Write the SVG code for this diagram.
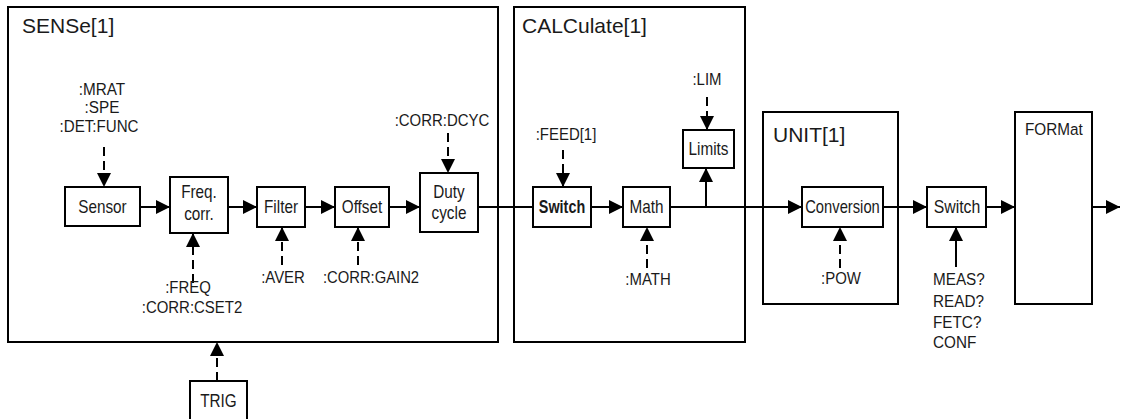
<svg xmlns="http://www.w3.org/2000/svg" width="1121" height="419" viewBox="0 0 1121 419">
<style>
.box{fill:none;stroke:#000;stroke-width:2}
.nb{fill:#fff;stroke:#000;stroke-width:2}
.t{font-family:"Liberation Sans",Arial,sans-serif;fill:#1a1a1a}
.title{font-size:21px}
.node{font-size:18px;text-anchor:middle}
.cmd{font-size:17px;text-anchor:middle}
.lft{font-size:17px}
.ln{fill:none;stroke:#000;stroke-width:2}
.dash{fill:none;stroke:#000;stroke-width:2;stroke-dasharray:9 5}
</style>
<defs>
<marker id="ah" viewBox="0 0 14 14" refX="14" refY="7" markerWidth="14" markerHeight="14" markerUnits="userSpaceOnUse" orient="auto">
<path d="M0,0 L14,7 L0,14 z" fill="#000"/>
</marker>
</defs>
<g id="sense">
<rect class="box" x="8" y="7" width="490" height="335"/>
<text class="t title" x="22" y="33">SENSe[1]</text>
</g>
<g id="calculate">
<rect class="box" x="514" y="7" width="231" height="335"/>
<text class="t title" x="522" y="33">CALCulate[1]</text>
</g>
<g id="unit">
<rect class="box" x="763" y="112" width="135" height="192"/>
<text class="t title" x="773" y="142">UNIT[1]</text>
</g>
<g id="format">
<rect class="box" x="1015" y="112" width="77" height="192"/>
<text class="t lft" transform="translate(1025,135) scale(0.9,1)">FORMat</text>
</g>
<g id="connectors">
<line class="ln" x1="140" y1="207" x2="170" y2="207" marker-end="url(#ah)"/>
<line class="ln" x1="228" y1="207" x2="257" y2="207" marker-end="url(#ah)"/>
<line class="ln" x1="305" y1="207" x2="335" y2="207" marker-end="url(#ah)"/>
<line class="ln" x1="389" y1="207" x2="420" y2="207" marker-end="url(#ah)"/>
<line class="ln" x1="478" y1="207" x2="533" y2="207"/>
<line class="ln" x1="591" y1="207" x2="623" y2="207" marker-end="url(#ah)"/>
<line class="ln" x1="670" y1="207" x2="802" y2="207" marker-end="url(#ah)"/>
<line class="ln" x1="706" y1="208" x2="706" y2="168" marker-end="url(#ah)"/>
<line class="ln" x1="883" y1="207" x2="927" y2="207" marker-end="url(#ah)"/>
<line class="ln" x1="986" y1="207" x2="1015" y2="207" marker-end="url(#ah)"/>
<line class="ln" x1="1092" y1="207" x2="1120" y2="207" marker-end="url(#ah)"/>
<line class="dash" x1="104" y1="147" x2="104" y2="187" marker-end="url(#ah)"/>
<line class="dash" x1="193" y1="283" x2="193" y2="233" marker-end="url(#ah)"/>
<line class="dash" x1="282" y1="265" x2="282" y2="227" marker-end="url(#ah)"/>
<line class="dash" x1="358" y1="265" x2="358" y2="227" marker-end="url(#ah)"/>
<line class="dash" x1="448" y1="133" x2="448" y2="173" marker-end="url(#ah)"/>
<line class="dash" x1="217" y1="381" x2="217" y2="342" marker-end="url(#ah)"/>
<line class="dash" x1="563" y1="150" x2="563" y2="187" marker-end="url(#ah)"/>
<line class="dash" x1="707" y1="97" x2="707" y2="130" marker-end="url(#ah)"/>
<line class="dash" x1="647" y1="268" x2="647" y2="227" marker-end="url(#ah)"/>
<line class="dash" x1="840" y1="268" x2="840" y2="227" marker-end="url(#ah)"/>
<line class="ln" x1="956" y1="267" x2="956" y2="227" marker-end="url(#ah)"/>
</g>
<g id="sensor">
<rect class="nb" x="65" y="187" width="75" height="39"/>
<text class="t node" transform="translate(102.5,213) scale(0.85,1)">Sensor</text>
</g>
<g id="freqcorr">
<rect class="nb" x="170" y="177" width="58" height="56"/>
<text class="t node" transform="translate(199,198) scale(0.85,1)">Freq.</text>
<text class="t node" transform="translate(199,220) scale(0.85,1)">corr.</text>
</g>
<g id="filter">
<rect class="nb" x="257" y="187" width="48" height="40"/>
<text class="t node" transform="translate(281,213) scale(0.85,1)">Filter</text>
</g>
<g id="offset">
<rect class="nb" x="335" y="187" width="54" height="40"/>
<text class="t node" transform="translate(362,213) scale(0.85,1)">Offset</text>
</g>
<g id="dutycycle">
<rect class="nb" x="420" y="173" width="58" height="59"/>
<text class="t node" transform="translate(449,198) scale(0.85,1)">Duty</text>
<text class="t node" transform="translate(449,219) scale(0.85,1)">cycle</text>
</g>
<g id="switch1">
<rect class="nb" x="533" y="187" width="58" height="40"/>
<text class="t node" style="font-weight:bold" transform="translate(562,213) scale(0.8,1)">Switch</text>
</g>
<g id="math">
<rect class="nb" x="623" y="187" width="47" height="40"/>
<text class="t node" transform="translate(646.5,213) scale(0.85,1)">Math</text>
</g>
<g id="limits">
<rect class="nb" x="683" y="130" width="51" height="38"/>
<text class="t node" transform="translate(708.5,155) scale(0.85,1)">Limits</text>
</g>
<g id="conversion">
<rect class="nb" x="802" y="187" width="81" height="40"/>
<text class="t node" transform="translate(842.5,213) scale(0.82,1)">Conversion</text>
</g>
<g id="switch2">
<rect class="nb" x="927" y="187" width="59" height="40"/>
<text class="t node" transform="translate(957,213) scale(0.88,1)">Switch</text>
</g>
<g id="trig">
<rect class="nb" x="190" y="381" width="57" height="45"/>
<text class="t node" transform="translate(218.5,407) scale(0.85,1)">TRIG</text>
</g>
<g id="labels">
<text class="t cmd" transform="translate(102,95) scale(0.9,1)">:MRAT</text>
<text class="t cmd" transform="translate(102,113) scale(0.9,1)">:SPE</text>
<text class="t cmd" transform="translate(99,132) scale(0.89,1)">:DET:FUNC</text>
<text class="t cmd" transform="translate(442,126) scale(0.88,1)">:CORR:DCYC</text>
<text class="t cmd" transform="translate(188,293) scale(0.88,1)">:FREQ</text>
<text class="t cmd" transform="translate(192,313) scale(0.88,1)">:CORR:CSET2</text>
<text class="t cmd" transform="translate(283,283) scale(0.88,1)">:AVER</text>
<text class="t cmd" transform="translate(371,283) scale(0.87,1)">:CORR:GAIN2</text>
<text class="t cmd" transform="translate(566,140) scale(0.88,1)">:FEED[1]</text>
<text class="t cmd" transform="translate(707,85) scale(0.88,1)">:LIM</text>
<text class="t cmd" transform="translate(648,285) scale(0.88,1)">:MATH</text>
<text class="t cmd" transform="translate(841,284) scale(0.88,1)">:POW</text>
<text class="t lft" transform="translate(933,285) scale(0.9,1)">MEAS?</text>
<text class="t lft" transform="translate(933,307) scale(0.9,1)">READ?</text>
<text class="t lft" transform="translate(933,328) scale(0.9,1)">FETC?</text>
<text class="t lft" transform="translate(933,348) scale(0.9,1)">CONF</text>
</g>
</svg>
